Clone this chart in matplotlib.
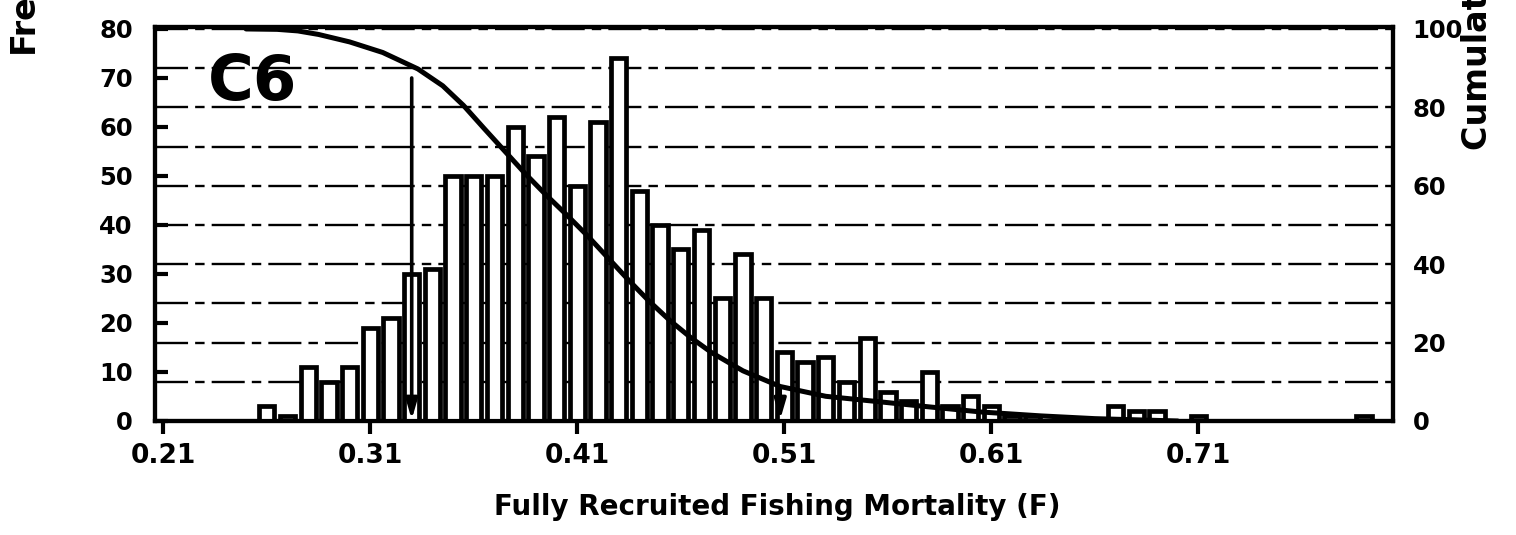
import matplotlib
matplotlib.use('Agg')
import matplotlib.pyplot as plt

# ---- data ----
f_bins = [0.26, 0.27, 0.28, 0.29, 0.30, 0.31, 0.32, 0.33, 0.34, 0.35,
          0.36, 0.37, 0.38, 0.39, 0.40, 0.41, 0.42, 0.43, 0.44, 0.45,
          0.46, 0.47, 0.48, 0.49, 0.50, 0.51, 0.52, 0.53, 0.54, 0.55,
          0.56, 0.57, 0.58, 0.59, 0.60, 0.61, 0.62, 0.63, 0.67, 0.68,
          0.69, 0.71, 0.79]
frequency = [3, 1, 11, 8, 11, 19, 21, 30, 31, 50,
             50, 50, 60, 54, 62, 48, 61, 74, 47, 40,
             35, 39, 25, 34, 25, 14, 12, 13, 8, 17,
             6, 4, 10, 3, 5, 3, 1, 1, 3, 2,
             2, 1, 1]

cum_f = [0.25, 0.265, 0.275, 0.285, 0.300, 0.316, 0.333, 0.345, 0.355, 0.365,
         0.375, 0.385, 0.395, 0.405, 0.415, 0.425, 0.435, 0.445, 0.455,
         0.465, 0.475, 0.490, 0.508, 0.530, 0.556, 0.580, 0.605, 0.634,
         0.66, 0.70]
cum_pct = [100, 99.9, 99.5, 98.6, 96.7, 94.0, 89.8, 85.5, 80.5, 74.6,
           68.8, 63.0, 57.6, 52.5, 47.2, 41.5, 35.8, 30.4, 25.5,
           21.2, 17.4, 12.8, 8.8, 6.3, 4.9, 3.6, 2.3, 1.3,
           0.6, 0.0]

x_ticks = [0.21, 0.31, 0.41, 0.51, 0.61, 0.71]
x_tick_labels = ['0.21', '0.31', '0.41', '0.51', '0.61', '0.71']
freq_ticks = [0, 10, 20, 30, 40, 50, 60, 70, 80]
pct_ticks = [0, 20, 40, 60, 80, 100]
pct_grid = [10, 30, 50, 70, 90]

arrow_f = [0.33, 0.508]
arrow_top = [70, 7]

# ---- figure ----
plt.rcParams['font.family'] = ['DejaVu Sans']
plt.rcParams['font.weight'] = 'bold'

fig = plt.figure(figsize=(15.16, 5.35), dpi=100)
ax = fig.add_axes([155 / 1516, 1 - 421 / 535, (1393 - 155) / 1516, (421 - 27) / 535])
ax2 = ax.twinx()
ax.set_zorder(2)
ax2.set_zorder(1)
ax.patch.set_visible(False)

ax.set_xlim(0.206, 0.804)
ax.set_ylim(0, 80.4)
ax2.set_ylim(0, 100.5)

# grid from the right (cumulative) axis
ax2.set_yticks(pct_ticks)
ax2.set_yticks(pct_grid, minor=True)
ax2.grid(True, which='both', axis='y', color='black', linestyle=(0, (14, 3, 4, 3)), linewidth=1.7)
ax2.tick_params(axis='y', which='both', length=0, pad=14, labelsize=17.5)
for lab in ax2.get_yticklabels():
    lab.set_fontweight('bold')

# bars
ax.bar(f_bins, frequency, width=0.0074, color='white', edgecolor='black', linewidth=3.4, zorder=2)

# cumulative curve, drawn above the bars using the right-axis scale
ax.plot(cum_f, cum_pct, transform=ax2.transData, color='black', linewidth=3.6, zorder=5,
        solid_capstyle='round', solid_joinstyle='round')

# arrows
for xf, yt in zip(arrow_f, arrow_top):
    ax.annotate('', xy=(xf, 0.3), xytext=(xf, yt),
                arrowprops=dict(arrowstyle='-|>,head_length=1.2,head_width=0.35',
                                color='black', lw=2.6, shrinkA=0, shrinkB=0),
                zorder=6)

ax.set_xticks(x_ticks)
ax.set_xticklabels(x_tick_labels)
ax.set_yticks(freq_ticks)
ax.tick_params(axis='x', direction='out', length=9, width=3, pad=7, labelsize=19)
ax.tick_params(axis='y', direction='in', length=9, width=3, pad=16, labelsize=17.5)
for lab in ax.get_xticklabels() + ax.get_yticklabels():
    lab.set_fontweight('bold')

for a in (ax, ax2):
    for s in a.spines.values():
        s.set_linewidth(3)
        s.set_color('black')

ax.text(0.043, 0.814, 'C6', transform=ax.transAxes, fontsize=45, fontweight='bold',
        ha='left', va='baseline', zorder=7)

fig.text(777 / 1516, 1 - 507 / 535, 'Fully Recruited Fishing Mortality (F)',
         ha='center', va='center', fontsize=20, fontweight='bold')
fig.text(23 / 1516, 1 - 53 / 535, 'Frequency', rotation=90, ha='center', va='bottom',
         fontsize=24, fontweight='bold')
fig.text(1477 / 1516, 1 - 150 / 535, 'Cumulative Probability (%)', rotation=90,
         ha='center', va='bottom', fontsize=24, fontweight='bold')

fig.savefig('out.png', dpi=100, facecolor='white')
